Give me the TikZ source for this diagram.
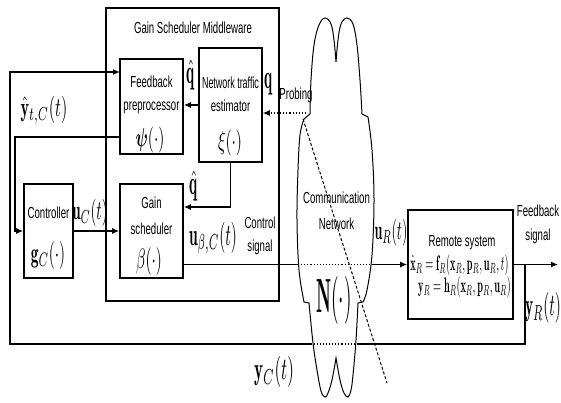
\documentclass[tikz,border=0pt]{standalone}
\usepackage{amsmath,bm}
\usepackage{fontspec}
\newfontfamily\cond[FakeStretch=0.6]{Liberation Sans}
\usetikzlibrary{arrows.meta,calc}
\newcommand{\lab}[3]{\scalebox{\fpeval{#1*#2/10}}[\fpeval{#2/10}]{$#3$}}
\begin{document}
\begin{tikzpicture}[x=1pt,y=-1pt,
  blk/.style={draw,line width=1.6pt,inner sep=0pt},
  ln/.style={line width=1.3pt},
  arr/.style={ln,-{Latex[length=7pt,width=6pt]}},
  dotln/.style={line width=1.1pt,dotted},
  txt/.style={font=\cond\fontsize{16}{18}\selectfont,inner sep=0pt,anchor=base},
  mth/.style={inner sep=0pt},
]
\useasboundingbox (0,0) rectangle (561,402);

% boxes
\node[blk,minimum width=173,minimum height=293] (mw) at (192.5,154.5) {};
\node[blk,minimum width=63,minimum height=95] (fp) at (151.5,106.5) {};
\node[blk,minimum width=63,minimum height=114] (est) at (230.5,105) {};
\node[blk,minimum width=49,minimum height=94] (ctrl) at (48.5,231) {};
\node[blk,minimum width=63,minimum height=94] (gs) at (151.5,231) {};
\node[blk,minimum width=105,minimum height=109] (rs) at (460.5,264.5) {};

% cloud
\draw[line width=1pt]
  plot[smooth,tension=0.6] coordinates {(310,114) (311,80) (314,45) (319,25) (325,18) (331,24) (334,40) (336,62)}
  -- plot[smooth,tension=0.6] coordinates {(336,62) (338,40) (341,24) (347,18) (353,24) (357,45) (360,80) (362,114)}
  -- (368,117)
  -- plot[smooth,tension=0.6] coordinates {(368,117) (372,150) (374,200) (372,255) (367,290) (363,302)}
  -- (358,303)
  -- plot[smooth,tension=0.6] coordinates {(358,303) (356,340) (353,375) (351,390) (348,397) (344,393) (340,380) (336,358)}
  -- plot[smooth,tension=0.6] coordinates {(336,358) (332,380) (328,393) (325,397) (321,391) (317,370) (313,343) (309,303)}
  -- (304,302)
  -- plot[smooth,tension=0.6] coordinates {(304,302) (299,270) (297,220) (298,170) (300,135) (304,119)}
  -- cycle;
\coordinate (dg1) at (303,119);
\coordinate (dg2) at (387,383);
\draw[line width=1pt,dash pattern=on 3pt off 2pt] (dg1) -- (dg2);

% text
\node[txt] (mwt) at (193,33) {Gain Scheduler Middleware};
\node[txt] (fpt1) at (151.5,87) {Feedback};
\node[txt] (fpt2) at (151.5,110) {preprocessor};
\node[txt] (est1) at (230.5,88) {\scalebox{0.93}[1]{Network traffic}};
\node[txt] (est2) at (230.5,111) {estimator};
\node[txt] (ctrlt) at (48.5,218) {Controller};
\node[txt] (gst1) at (151.5,208) {Gain};
\node[txt] (gst2) at (151.5,234) {scheduler};
\node[txt] (cst1) at (260,228) {Control};
\node[txt] (cst2) at (260,251) {signal};
\node[txt] (prb) at (296,99) {Probing};
\node[txt] (cn1) at (336.5,203) {Communication};
\node[txt] (cn2) at (336.5,229) {Network};
\node[txt] (rst) at (462,246) {Remote system};
\node[txt] (fbs1) at (538,216) {Feedback};
\node[txt] (fbs2) at (538,240) {signal};

% math in boxes
\node[mth] (psi) at (150,140) {\lab{0.6}{26}{\bm{\psi}(\cdot)}};
\node[mth] (xi) at (230,143) {\lab{0.6}{26}{\xi(\cdot)}};
\node[mth] (gc) at (48,255) {\lab{0.55}{28}{\mathbf{g}_C(\cdot)}};
\node[mth] (beta) at (149,261) {\lab{0.55}{28}{\beta(\cdot)}};
\node[mth] (nn) at (334,300) {\lab{0.4}{48}{\mathbf{N}(\cdot)}};
\node[mth] (eq1) at (459.5,265) {\lab{0.49}{21}{\dot{\mathbf{x}}_R=\mathbf{f}_R(\mathbf{x}_R,\mathbf{p}_R,\mathbf{u}_R,t)}};
\node[mth] (eq2) at (464.5,287) {\lab{0.49}{21}{\mathbf{y}_R=\mathbf{h}_R(\mathbf{x}_R,\mathbf{p}_R,\mathbf{u}_R)}};

% math labels
\node[mth] (yhat) at (44,110) {\lab{0.6}{27}{\hat{\mathbf{y}}_{t,C}(t)}};
\node[mth] (uc) at (90,213) {\lab{0.55}{27}{\mathbf{u}_C(t)}};
\node[mth] (qh1) at (191,75) {\lab{0.45}{34}{\hat{\mathbf{q}}}};
\node[mth] (q) at (269,84) {\lab{0.45}{34}{\mathbf{q}}};
\node[mth] (qh2) at (194,186) {\lab{0.45}{34}{\hat{\mathbf{q}}}};
\node[mth] (ubc) at (213,238) {\lab{0.5}{31}{\mathbf{u}_{\beta,C}(t)}};
\node[mth] (ur) at (391,233) {\lab{0.52}{27}{\mathbf{u}_R(t)}};
\node[mth] (yr) at (543,308) {\lab{0.5}{31}{\mathbf{y}_R(t)}};
\node[mth] (yc) at (274,372) {\lab{0.55}{31}{\mathbf{y}_C(t)}};

% coordinates
\coordinate (br) at (525,264.5);
\coordinate (out) at (558,264.5);
\coordinate (bR) at (525,344);
\coordinate (cbR) at (358,344);
\coordinate (cbL) at (312,344);
\coordinate (bL) at (10,344);
\coordinate (tL) at (10,72);
\coordinate (tR) at (120,72);
\coordinate (yhR) at (120,137);
\coordinate (yhL) at (15,137);
\coordinate (yhB) at (15,231);
\coordinate (csL) at (298,264.5);
\coordinate (csR) at (373,264.5);
\coordinate (qb) at (230.5,207);
\coordinate (probe) at (306,113);

% connectors
\draw[arr] (rs.east) -- (out);
\draw[ln] (br) -- (bR) -- (cbR);
\draw[dotln] (cbR) -- (cbL);
\draw[arr] (cbL) -- (bL) -- (tL) -- (tR);
\draw[arr] (yhR) -- (yhL) -- (yhB) -- (ctrl.west);
\draw[arr] (ctrl.east) -- (gs.west);
\draw[ln] (gs.east |- rs.west) -- (csL);
\draw[dotln] (csL) -- (csR);
\draw[arr] (csR) -- (rs.west);
\draw[arr] (est.south) -- (qb) -- (qb -| gs.east);
\draw[arr] (est.west) -- (est.west -| fp.east);
\draw[dotln,-{Latex[length=7pt,width=6pt]}] (probe) -- (probe -| est.east);
\end{tikzpicture}
\end{document}
